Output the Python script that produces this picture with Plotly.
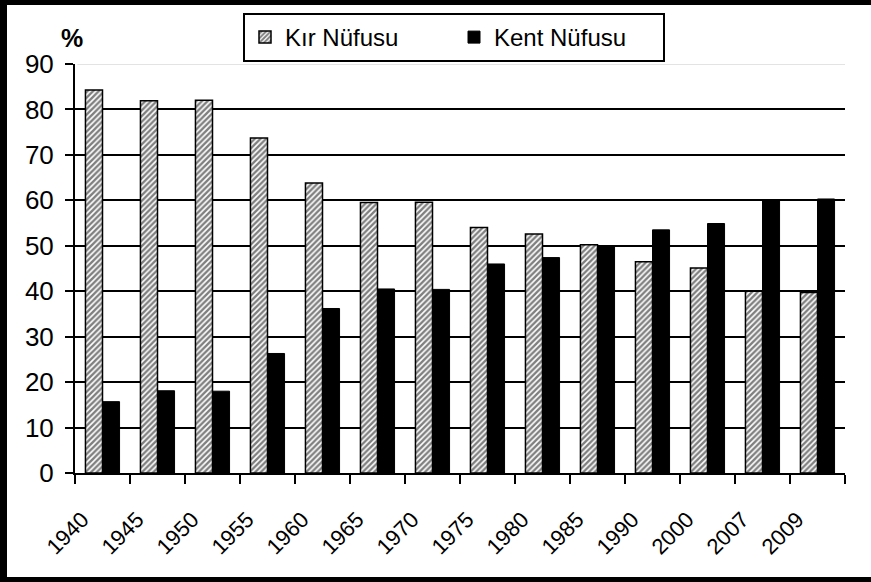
import plotly.graph_objects as go

years = ["1940", "1945", "1950", "1955", "1960", "1965", "1970", "1975",
         "1980", "1985", "1990", "2000", "2007", "2009"]
kir = [84.3, 81.9, 82.0, 73.7, 63.8, 59.5, 59.6, 54.0, 52.6, 50.2, 46.5, 45.1, 40.0, 39.7]
kent = [15.7, 18.1, 18.0, 26.3, 36.2, 40.5, 40.4, 46.0, 47.4, 49.8, 53.5, 54.9, 60.0, 60.3]
y_ticks = [0, 10, 20, 30, 40, 50, 60, 70, 80, 90]

W, H = 871, 582
L, R, T, B = 75, 26, 64, 109
PW, PH = W - L - R, H - T - B

def px(x):
    return (x - L) / PW

def py(y):
    return (H - B - y) / PH

FONT = "Liberation Sans, Arial, sans-serif"

fig = go.Figure()
fig.add_trace(go.Bar(
    x=years, y=kir, name="Kır Nüfusu",
    marker=dict(color="white", line=dict(color="black", width=1.5),
                pattern=dict(shape="/", fgcolor="black", bgcolor="white",
                             size=4, solidity=0.6)),
))
fig.add_trace(go.Bar(
    x=years, y=kent, name="Kent Nüfusu",
    marker=dict(color="black", line=dict(color="black", width=1)),
))

shapes = []
# light gray top line at 90
shapes.append(dict(type="line", xref="paper", yref="y", x0=0.002, x1=1, y0=90, y1=90,
                   line=dict(color="white", width=3), layer="above"))
shapes.append(dict(type="line", xref="paper", yref="y", x0=0.003, x1=1, y0=90, y1=90,
                   line=dict(color="#c8c8c8", width=1.2), layer="above"))
# outer frame
for (x0, y0, x1, y1) in [(0, 0, 7, H), (0, 0, W + 10, 5), (0, H - 5, W + 10, H)]:
    shapes.append(dict(type="rect", xref="paper", yref="paper",
                       x0=px(x0), x1=px(x1), y0=py(y1), y1=py(y0),
                       fillcolor="black", line=dict(width=0), layer="above"))

fig.update_layout(
    width=W, height=H,
    margin=dict(l=L, r=R, t=T, b=B, pad=0),
    paper_bgcolor="white", plot_bgcolor="white",
    barmode="group", bargap=0.38, bargroupgap=0,
    font=dict(family=FONT, color="black"),
    shapes=shapes,
    legend=dict(orientation="h", x=px(243), y=py(13), xanchor="left", yanchor="top",
                bgcolor="white", bordercolor="black", borderwidth=2,
                font=dict(size=24, family=FONT), itemwidth=30,
                entrywidth=164, entrywidthmode="pixels"),
    annotations=[dict(text="<b>%</b>", xref="paper", yref="paper",
                      x=px(59), y=py(22), xanchor="left", yanchor="top",
                      showarrow=False, font=dict(size=25, family=FONT))],
    xaxis=dict(type="category", showline=True, linecolor="black", linewidth=2,
               ticks="outside", tickson="boundaries", ticklen=9, tickwidth=2,
               tickcolor="black", tickangle=-45, tickfont=dict(size=22),
               ticklabelstandoff=23, ticklabelshift=-20, showgrid=False),
    yaxis=dict(range=[0, 90], tickvals=y_ticks, showline=True, linecolor="black",
               linewidth=2, ticks="outside", ticklen=8, tickwidth=2, tickcolor="black",
               tickfont=dict(size=26), showgrid=True, gridcolor="black", gridwidth=2,
               zeroline=False, ticklabelstandoff=6),
)

fig.write_html("out.html", config={"displayModeBar": False},
               post_script="document.body.style.margin='0';document.body.style.overflow='hidden';")
